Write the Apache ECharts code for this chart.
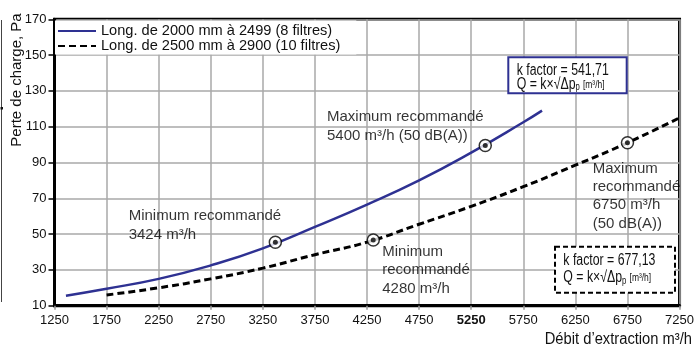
<!DOCTYPE html>
<html>
<head>
<meta charset="utf-8">
<script src="https://cdn.jsdelivr.net/npm/echarts@6/dist/echarts.min.js"></script>
<style>
html,body{margin:0;padding:0;background:#fff;}
#c{width:697px;height:347px;}
</style>
</head>
<body>
<div id="c"></div>
<script>
// ---- data ----
const seriesNames = ['Long. de 2000 mm à 2499 (8 filtres)', 'Long. de 2500 mm à 2900 (10 filtres)'];
const blueX = [1360, 1750, 2250, 2750, 3250, 3750, 4250, 4750, 5250, 5750, 5930];
const blueY = [15.6, 19.5, 25, 32.5, 42, 54, 66.5, 80, 95.5, 112.5, 119];
const blackX = [1750, 2250, 2750, 3250, 3750, 4250, 4750, 5250, 5750, 6250, 6750, 7250];
const blackY = [16, 20, 25, 31, 38.5, 45.5, 55.5, 65.5, 76.5, 88.5, 101, 115];
const markerX = [3370, 5385, 4310, 6750];
const markerY = [45.4, 99.5, 46.7, 101];
const markerLabels = [
  'Minimum recommandé\n3424 m³/h',
  'Maximum recommandé\n5400 m³/h (50 dB(A))',
  'Minimum\nrecommandé\n4280 m³/h',
  'Maximum\nrecommandé\n6750 m³/h\n(50 dB(A))'
];
const xTickLabels = [1250, 1750, 2250, 2750, 3250, 3750, 4250, 4750, 5250, 5750, 6250, 6750, 7250];
const yTickLabels = [10, 30, 50, 70, 90, 110, 130, 150, 170];
const kBox1 = ['k factor = 541,71', 'Q = k×√Δp', 'p', ' [m³/h]'];
const kBox2 = ['k factor = 677,13', 'Q = k×√Δp', 'p', ' [m³/h]'];
const xName = 'Débit d’extraction m³/h';
const yName = 'Perte de charge, Pa';

// ---- layout / style ----
const X0 = xTickLabels[0], Y0 = yTickLabels[0];
const SANS = "'Liberation Sans',Arial,sans-serif";
const BLUE = '#2e3192';
const BOX_SCALE = 0.77;
// label offsets relative to marker centre (pixels) and line heights
const labelOffsets = [[-146.7, -36.3], [-158.3, -38.8], [9, 2.4], [-34.7, 16.4]];
const labelLH = [19.5, 19.5, 18.4, 18.4];
const INNER = 5;

const pairs = (xs, ys) => xs.map((x, i) => [x - X0, ys[i] - Y0]);

const chart = echarts.init(document.getElementById('c'), null, {renderer: 'canvas'});

const markerData = markerX.map((x, i) => ({
  value: [x - X0, markerY[i] - Y0],
  label: {
    show: true,
    formatter: markerLabels[i],
    position: [labelOffsets[i][0] + INNER / 2, labelOffsets[i][1] + INNER / 2],
    align: 'left',
    verticalAlign: 'top',
    fontFamily: SANS,
    fontSize: 15,
    lineHeight: labelLH[i],
    color: '#000'
  }
}));

function kText(parts) {
  return '{a|' + parts[0] + '}\n{a|' + parts[1] + '}{s|' + parts[2] + '}{m|' + parts[3] + '}';
}
function kRich(lh) {
  return {
    a: {fontFamily: SANS, fontSize: 16, lineHeight: lh, fill: '#111'},
    s: {fontFamily: SANS, fontSize: 10, lineHeight: lh, fill: '#111', verticalAlign: 'bottom', padding: [0, 1, 0, 0]},
    m: {fontFamily: SANS, fontSize: 11, lineHeight: lh, fill: '#111'}
  };
}

chart.setOption({
  animation: false,
  backgroundColor: '#fff',
  grid: {left: 54.5, right: 15, top: 19.3, bottom: 41.3, show: true, borderColor: '#000', borderWidth: 3},
  legend: {
    data: seriesNames,
    orient: 'vertical',
    left: 55,
    top: 20.5,
    padding: [3, 16, 1, 2],
    itemGap: 0,
    itemWidth: 38,
    itemHeight: 12,
    backgroundColor: '#fff',
    itemStyle: {color: 'rgba(0,0,0,0)', borderColor: 'rgba(0,0,0,0)', borderWidth: 0},
    textStyle: {fontFamily: SANS, fontSize: 14.6, lineHeight: 15, color: '#111'}
  },
  xAxis: {
    type: 'value', min: 0, max: xTickLabels[xTickLabels.length - 1] - X0, interval: xTickLabels[1] - xTickLabels[0],
    axisLine: {show: true, onZero: false, lineStyle: {color: '#000', width: 3}},
    axisTick: {show: true, length: 4, lineStyle: {color: '#999', width: 1.5}},
    splitLine: {show: true, lineStyle: {color: '#a8a8a8', width: 1.5}},
    axisLabel: {
      margin: 8, fontFamily: SANS, fontSize: 13, color: '#111',
      formatter: v => { const t = v + X0; return t === 5250 ? '{b|' + t + '}' : String(t); },
      rich: {b: {fontFamily: SANS, fontSize: 13, fontWeight: 'bold', color: '#111'}}
    }
  },
  yAxis: {
    type: 'value', min: 0, max: yTickLabels[yTickLabels.length - 1] - Y0, interval: yTickLabels[1] - yTickLabels[0],
    axisLine: {show: true, onZero: false, lineStyle: {color: '#000', width: 3}},
    axisTick: {show: true, length: 6, lineStyle: {color: '#000', width: 1.5}},
    splitLine: {show: true, lineStyle: {color: '#a8a8a8', width: 1.5}},
    axisLabel: {margin: 8, fontFamily: SANS, fontSize: 13, color: '#111', formatter: v => String(v + Y0)}
  },
  series: [
    {
      name: seriesNames[0], type: 'line', smooth: true, symbol: 'none', z: 3,
      data: pairs(blueX, blueY),
      lineStyle: {color: BLUE, width: 2.5}, itemStyle: {color: BLUE}
    },
    {
      name: seriesNames[1], type: 'line', smooth: true, symbol: 'none', z: 3,
      data: pairs(blackX, blackY),
      lineStyle: {color: '#000', width: 3, type: [7, 4]}, itemStyle: {color: '#000'}
    },
    {
      type: 'scatter', silent: true, z: 4, symbol: 'circle', symbolSize: 12,
      data: pairs(markerX, markerY),
      itemStyle: {color: '#fff', borderColor: '#000', borderWidth: 1.5}
    },
    {
      type: 'scatter', silent: true, z: 5, symbol: 'circle', symbolSize: INNER,
      data: markerData,
      itemStyle: {color: '#000'}
    }
  ],
  graphic: [
    {type: 'rect', z: 100, shape: {x: 508.3, y: 57.3, width: 118.4, height: 36},
     style: {fill: '#fff', stroke: BLUE, lineWidth: 2}},
    {type: 'text', z: 101, x: 516.7, y: 63.2, scaleX: BOX_SCALE,
     style: {text: kText(kBox1), rich: kRich(14.5), verticalAlign: 'top', align: 'left'}},
    {type: 'rect', z: 100, shape: {x: 555, y: 246.7, width: 120, height: 46},
     style: {fill: '#fff', stroke: '#000', lineWidth: 2, lineDash: [5, 3]}},
    {type: 'text', z: 101, x: 563.3, y: 252.5, scaleX: BOX_SCALE,
     style: {text: kText(kBox2), rich: kRich(17), verticalAlign: 'top', align: 'left'}},
    {type: 'text', z: 101, x: 692, y: 339.5, scaleX: 0.92,
     style: {text: xName, fontFamily: SANS, fontSize: 16, fill: '#111', align: 'right', verticalAlign: 'middle'}},
    {type: 'text', z: 101, x: 17, y: 80, rotation: Math.PI / 2,
     style: {text: yName, fontFamily: SANS, fontSize: 15, fill: '#111', align: 'center', verticalAlign: 'middle'}},
    {type: 'line', z: 101, shape: {x1: 1.5, y1: 20, x2: 1.5, y2: 302}, style: {stroke: '#444', lineWidth: 1}},
    {type: 'rect', z: 101, shape: {x: 0.5, y: 107, width: 2.5, height: 2.5}, style: {fill: '#111'}}
  ]
});
</script>
</body>
</html>
